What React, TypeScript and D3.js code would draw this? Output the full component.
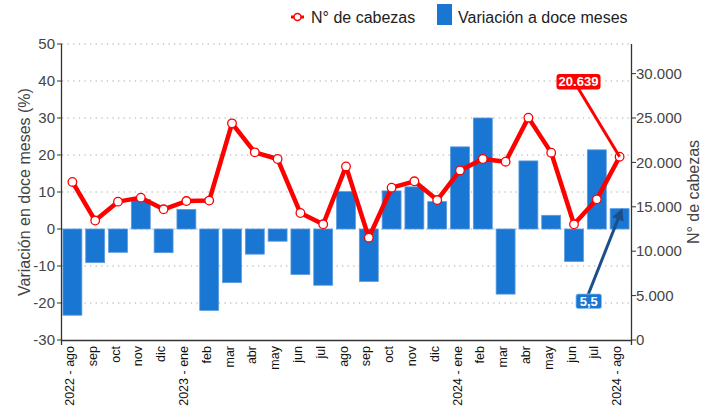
import React from 'react';
import * as d3 from 'd3';

const months = [
  '2022 - ago', 'sep', 'oct', 'nov', 'dic',
  '2023 - ene', 'feb', 'mar', 'abr', 'may', 'jun', 'jul', 'ago', 'sep', 'oct', 'nov', 'dic',
  '2024 - ene', 'feb', 'mar', 'abr', 'may', 'jun', 'jul', '2024 - ago',
];

// Variación a doce meses (%)
const variation = [
  -23.3, -9.1, -6.3, 8.0, -6.4,
  5.3, -22.0, -14.5, -6.8, -3.3, -12.3, -15.2, 10.1, -14.2, 10.3, 11.4, 7.4,
  22.2, 30.0, -17.6, 18.4, 3.7, -8.8, 21.4, 5.5,
];

// N° de cabezas
const heads = [
  17800, 13450, 15580, 16030, 14720,
  15650, 15700, 24400, 21130, 20380, 14300, 13030, 19550, 11520, 17150, 17870, 15760,
  19100, 20380, 20080, 25040, 21100, 13030, 15840, 20639,
];

const leftTicks = [-30, -20, -10, 0, 10, 20, 30, 40, 50];
const rightTicks = [0, 5000, 10000, 15000, 20000, 25000, 30000];

const W = 702;
const H = 407;
const margin = { top: 44, right: 71, bottom: 67, left: 61 };
const font = '"Liberation Sans", Arial, sans-serif';
const blue = '#1976d2';
const red = '#ff0000';

export default function App() {
  const x = d3.scaleBand<number>()
    .domain(d3.range(months.length))
    .range([margin.left, W - margin.right])
    .paddingInner(0.17)
    .paddingOuter(0.085);
  const cx = (i: number) => (x(i) as number) + x.bandwidth() / 2;

  const yL = d3.scaleLinear().domain([-30, 50]).range([H - margin.bottom, margin.top]);
  const yR = d3.scaleLinear().domain([0, 33333]).range([H - margin.bottom, margin.top]);

  const line = d3.line<number>()
    .x((d, i) => cx(i))
    .y(d => yR(d));

  const fmt = (v: number) => d3.format(',')(v).replace(/,/g, '.');
  const x0 = margin.left + 1;
  const x1 = W - margin.right;
  const last = months.length - 1;

  return (
    <svg width={W} height={H} style={{ position: 'absolute', left: 0, top: 0 }} fontFamily={font}>
      <defs>
        <marker id="arr" viewBox="0 0 10 10" refX="6" refY="5" markerWidth="4" markerHeight="4" orient="auto">
          <path d="M0,0 L10,5 L0,10 z" fill="#1b4f8a" />
        </marker>
      </defs>

      {/* grid */}
      {leftTicks.filter(t => t !== -30).map(t => (
        <line key={t} x1={x0} x2={x1} y1={yL(t)} y2={yL(t)} stroke="#a8a8a8" strokeDasharray="1.3,4.3" />
      ))}

      {/* bars */}
      {variation.map((v, i) => (
        <rect key={i} x={x(i)} width={x.bandwidth()}
          y={yL(Math.max(0, v))} height={Math.abs(yL(v) - yL(0))}
          fill={blue} stroke="#5b9ce0" strokeWidth={0.8} />
      ))}

      {/* line */}
      <path d={line(heads) || ''} fill="none" stroke={red} strokeWidth={4.5} strokeLinejoin="round" />
      {heads.map((v, i) => (
        <circle key={i} cx={cx(i)} cy={yR(v)} r={4.3} fill="#fff" stroke={red} strokeWidth={1.3} />
      ))}

      {/* axes */}
      <line x1={x0 - 0.5} x2={x0 - 0.5} y1={margin.top} y2={H - margin.bottom} stroke="#333" strokeWidth={1.3} />
      {leftTicks.map(t => (
        <g key={t}>
          <line x1={x0 - 5} x2={x0} y1={yL(t)} y2={yL(t)} stroke="#333" />
          <text x={x0 - 7} y={yL(t)} dy="0.35em" textAnchor="end" fontSize={15} fill="#444">{t}</text>
        </g>
      ))}
      <line x1={x1 + 0.5} x2={x1 + 0.5} y1={margin.top} y2={H - margin.bottom} stroke="#333" strokeWidth={1.3} />
      {rightTicks.map(t => (
        <g key={t}>
          <line x1={x1} x2={x1 + 5} y1={yR(t)} y2={yR(t)} stroke="#333" />
          <text x={x1 + 5} y={yR(t)} dy="0.35em" textAnchor="start" fontSize={15} fill="#444">{fmt(t)}</text>
        </g>
      ))}
      <path d={`M${x0 - 0.5},${H - margin.bottom + 5}V${H - margin.bottom + 0.5}H${x1 + 0.5}V${H - margin.bottom + 5}`}
        fill="none" stroke="#333" strokeWidth={1.3} />
      {months.map((m, i) => (
        <text key={i} transform={`translate(${cx(i) + 1.5},${H - margin.bottom + 6}) rotate(-90)`}
          textAnchor="end" fontSize={12.5} fill="#111">{m}</text>
      ))}

      {/* axis titles */}
      <text transform={`translate(30,${(margin.top + H - margin.bottom) / 2}) rotate(-90)`}
        textAnchor="middle" fontSize={16} fill="#444">Variación en doce meses (%)</text>
      <text transform={`translate(699,${(margin.top + H - margin.bottom) / 2}) rotate(-90)`}
        textAnchor="middle" fontSize={16} fill="#444">N° de cabezas</text>

      {/* annotations */}
      <line x1={578} y1={88} x2={cx(last)} y2={yR(heads[last])} stroke={red} strokeWidth={3} />
      <rect x={556.5} y={74} width={44} height={15.5} rx={3} fill={red} />
      <text x={578.5} y={86} textAnchor="middle" fontSize={13} fontWeight="bold" fill="#fff">{fmt(heads[last])}</text>

      <line x1={588} y1={295} x2={cx(last) + 1} y2={yL(variation[last]) + 4} stroke="#1b4f8a" strokeWidth={3} markerEnd="url(#arr)" />
      <rect x={576} y={294} width={25.5} height={14.5} rx={2} fill={blue} stroke="#8fbdee" strokeWidth={0.8} />
      <text x={588.8} y={305.5} textAnchor="middle" fontSize={13} fontWeight="bold" fill="#fff">{String(variation[last]).replace('.', ',')}</text>

      {/* legend */}
      <line x1={291} x2={304} y1={17} y2={17} stroke={red} strokeWidth={3} />
      <circle cx={297.5} cy={17} r={3.5} fill="#fff" stroke={red} strokeWidth={1.5} />
      <text x={311} y={17} dy="0.35em" fontSize={16} fill="#222">N° de cabezas</text>
      <rect x={437} y={4} width={15} height={21} fill={blue} />
      <text x={458} y={17} dy="0.35em" fontSize={16} fill="#222">Variación a doce meses</text>
    </svg>
  );
}
